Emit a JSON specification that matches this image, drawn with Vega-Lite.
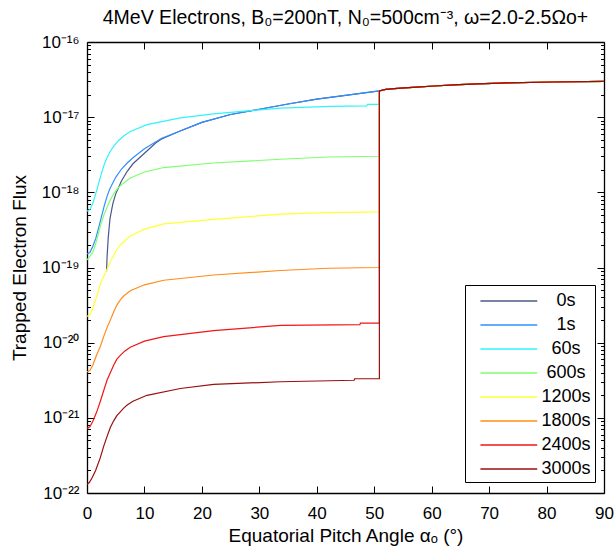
{
 "$schema": "https://vega.github.io/schema/vega-lite/v6.json",
 "autosize": {"type": "none"},
 "width": 517,
 "height": 451,
 "padding": {"left": 87, "top": 42, "right": 12, "bottom": 60},
 "background": "white",
 "config": {
  "font": "Liberation Sans",
  "view": {"stroke": null},
  "axis": {"grid": false, "domainColor": "black", "tickColor": "black", "labelColor": "black", "titleColor": "black", "domainWidth": 1.3, "tickWidth": 1, "labelFlush": false, "labelOverlap": false}
 },
 "title": {"text": "4MeV Electrons, B₀=200nT, N₀=500cm⁻³, ω=2.0-2.5Ωo+", "fontSize": 19.5, "fontWeight": "normal", "anchor": "middle", "offset": 5, "color": "black", "font": "Liberation Sans"},
 "data": {"values": [
  {"t":0,"a":3.4,"f":8.913e-20},{"t":0,"a":3.5,"f":1.413e-19},{"t":0,"a":3.7,"f":2.512e-19},{"t":0,"a":4.0,"f":4.467e-19},{"t":0,"a":4.5,"f":7.079e-19},{"t":0,"a":5,"f":9.55e-19},{"t":0,"a":6,"f":1.413e-18},{"t":0,"a":7,"f":1.905e-18},{"t":0,"a":8,"f":2.399e-18},{"t":0,"a":10,"f":3.311e-18},{"t":0,"a":12,"f":4.571e-18},{"t":0,"a":13,"f":5.129e-18},{"t":0,"a":16,"f":6.457e-18},{"t":0,"a":20,"f":8.511e-18},{"t":0,"a":25,"f":1.084e-17},{"t":0,"a":30,"f":1.274e-17},{"t":0,"a":35,"f":1.496e-17},{"t":0,"a":40,"f":1.738e-17},{"t":0,"a":45,"f":1.95e-17},
  {"t":0,"a":50.9,"f":2.239e-17},{"t":0,"a":52,"f":2.344e-17},{"t":0,"a":54.6,"f":2.427e-17},{"t":0,"a":57.4,"f":2.512e-17},{"t":0,"a":60.4,"f":2.6e-17},{"t":0,"a":63.9,"f":2.692e-17},{"t":0,"a":67.9,"f":2.773e-17},{"t":0,"a":73.2,"f":2.851e-17},{"t":0,"a":81,"f":2.938e-17},{"t":0,"a":90,"f":2.992e-17},

  {"t":1,"a":0,"f":1.514e-19},{"t":1,"a":0.5,"f":1.585e-19},{"t":1,"a":1,"f":1.905e-19},{"t":1,"a":1.5,"f":2.399e-19},{"t":1,"a":2,"f":3.311e-19},{"t":1,"a":2.5,"f":4.677e-19},{"t":1,"a":3,"f":6.607e-19},{"t":1,"a":3.5,"f":8.913e-19},{"t":1,"a":4,"f":1.122e-18},{"t":1,"a":5,"f":1.585e-18},{"t":1,"a":6,"f":2.042e-18},{"t":1,"a":7,"f":2.455e-18},{"t":1,"a":8,"f":2.884e-18},{"t":1,"a":10,"f":3.802e-18},{"t":1,"a":13,"f":5.248e-18},{"t":1,"a":16,"f":6.457e-18},{"t":1,"a":20,"f":8.511e-18},{"t":1,"a":25,"f":1.084e-17},{"t":1,"a":30,"f":1.274e-17},{"t":1,"a":35,"f":1.496e-17},{"t":1,"a":40,"f":1.738e-17},{"t":1,"a":45,"f":1.95e-17},
  {"t":1,"a":50.9,"f":2.239e-17},{"t":1,"a":52,"f":2.344e-17},{"t":1,"a":54.6,"f":2.427e-17},{"t":1,"a":57.4,"f":2.512e-17},{"t":1,"a":60.4,"f":2.6e-17},{"t":1,"a":63.9,"f":2.692e-17},{"t":1,"a":67.9,"f":2.773e-17},{"t":1,"a":73.2,"f":2.851e-17},{"t":1,"a":81,"f":2.938e-17},{"t":1,"a":90,"f":2.992e-17},

  {"t":60,"a":0,"f":5.623e-19},{"t":60,"a":0.5,"f":5.888e-19},{"t":60,"a":1,"f":7.079e-19},{"t":60,"a":1.74,"f":1.096e-18},{"t":60,"a":2.5,"f":1.778e-18},{"t":60,"a":3,"f":2.344e-18},{"t":60,"a":3.48,"f":2.884e-18},{"t":60,"a":4,"f":3.467e-18},{"t":60,"a":4.64,"f":4.074e-18},{"t":60,"a":5.5,"f":4.898e-18},{"t":60,"a":6.38,"f":5.623e-18},{"t":60,"a":7.54,"f":6.457e-18},{"t":60,"a":10.45,"f":7.943e-18},{"t":60,"a":16.25,"f":9.772e-18},{"t":60,"a":22.05,"f":1.109e-17},{"t":60,"a":33.67,"f":1.318e-17},{"t":60,"a":42.4,"f":1.396e-17},{"t":60,"a":48.7,"f":1.413e-17},{"t":60,"a":48.8,"f":1.479e-17},{"t":60,"a":50.9,"f":1.479e-17},
  {"t":60,"a":50.9,"f":2.239e-17},{"t":60,"a":52,"f":2.344e-17},{"t":60,"a":54.6,"f":2.427e-17},{"t":60,"a":57.4,"f":2.512e-17},{"t":60,"a":60.4,"f":2.6e-17},{"t":60,"a":63.9,"f":2.692e-17},{"t":60,"a":67.9,"f":2.773e-17},{"t":60,"a":73.2,"f":2.851e-17},{"t":60,"a":81,"f":2.938e-17},{"t":60,"a":90,"f":2.992e-17},

  {"t":600,"a":0,"f":1.259e-19},{"t":600,"a":1,"f":1.585e-19},{"t":600,"a":1.7,"f":2.291e-19},{"t":600,"a":2.32,"f":3.548e-19},{"t":600,"a":2.9,"f":4.898e-19},{"t":600,"a":3.5,"f":6.31e-19},{"t":600,"a":4,"f":7.762e-19},{"t":600,"a":4.64,"f":9.55e-19},{"t":600,"a":5.3,"f":1.122e-18},{"t":600,"a":6,"f":1.259e-18},{"t":600,"a":7.54,"f":1.549e-18},{"t":600,"a":10,"f":1.862e-18},{"t":600,"a":13.35,"f":2.138e-18},{"t":600,"a":22.05,"f":2.455e-18},{"t":600,"a":33.67,"f":2.754e-18},{"t":600,"a":42,"f":2.951e-18},{"t":600,"a":50.9,"f":3.02e-18},
  {"t":600,"a":50.9,"f":2.239e-17},{"t":600,"a":52,"f":2.344e-17},{"t":600,"a":54.6,"f":2.427e-17},{"t":600,"a":57.4,"f":2.512e-17},{"t":600,"a":60.4,"f":2.6e-17},{"t":600,"a":63.9,"f":2.692e-17},{"t":600,"a":67.9,"f":2.773e-17},{"t":600,"a":73.2,"f":2.851e-17},{"t":600,"a":81,"f":2.938e-17},{"t":600,"a":90,"f":2.992e-17},

  {"t":1200,"a":0,"f":2.239e-20},{"t":1200,"a":0.5,"f":2.344e-20},{"t":1200,"a":1,"f":2.818e-20},{"t":1200,"a":1.7,"f":4.169e-20},{"t":1200,"a":2.32,"f":6.026e-20},{"t":1200,"a":2.9,"f":7.586e-20},{"t":1200,"a":3.5,"f":9.55e-20},{"t":1200,"a":4.06,"f":1.202e-19},{"t":1200,"a":4.64,"f":1.445e-19},{"t":1200,"a":5.2,"f":1.738e-19},{"t":1200,"a":5.8,"f":1.995e-19},{"t":1200,"a":6.5,"f":2.239e-19},{"t":1200,"a":7.54,"f":2.63e-19},{"t":1200,"a":10,"f":3.236e-19},{"t":1200,"a":13.35,"f":3.802e-19},{"t":1200,"a":22.05,"f":4.365e-19},{"t":1200,"a":33.67,"f":5.129e-19},{"t":1200,"a":42,"f":5.37e-19},{"t":1200,"a":50.9,"f":5.495e-19},
  {"t":1200,"a":50.9,"f":2.239e-17},{"t":1200,"a":52,"f":2.344e-17},{"t":1200,"a":54.6,"f":2.427e-17},{"t":1200,"a":57.4,"f":2.512e-17},{"t":1200,"a":60.4,"f":2.6e-17},{"t":1200,"a":63.9,"f":2.692e-17},{"t":1200,"a":67.9,"f":2.773e-17},{"t":1200,"a":73.2,"f":2.851e-17},{"t":1200,"a":81,"f":2.938e-17},{"t":1200,"a":90,"f":2.992e-17},

  {"t":1800,"a":0,"f":4.074e-21},{"t":1800,"a":0.5,"f":4.266e-21},{"t":1800,"a":1,"f":5.012e-21},{"t":1800,"a":1.74,"f":7.079e-21},{"t":1800,"a":2.32,"f":8.913e-21},{"t":1800,"a":2.9,"f":1.202e-20},{"t":1800,"a":3.48,"f":1.585e-20},{"t":1800,"a":4.06,"f":1.995e-20},{"t":1800,"a":4.6,"f":2.512e-20},{"t":1800,"a":5.2,"f":3.162e-20},{"t":1800,"a":5.8,"f":3.715e-20},{"t":1800,"a":6.38,"f":4.169e-20},{"t":1800,"a":7.54,"f":4.898e-20},{"t":1800,"a":10,"f":5.888e-20},{"t":1800,"a":13.35,"f":6.761e-20},{"t":1800,"a":22.05,"f":7.943e-20},{"t":1800,"a":33.67,"f":9.12e-20},{"t":1800,"a":42,"f":9.772e-20},{"t":1800,"a":50.9,"f":1.0e-19},
  {"t":1800,"a":50.9,"f":2.239e-17},{"t":1800,"a":52,"f":2.344e-17},{"t":1800,"a":54.6,"f":2.427e-17},{"t":1800,"a":57.4,"f":2.512e-17},{"t":1800,"a":60.4,"f":2.6e-17},{"t":1800,"a":63.9,"f":2.692e-17},{"t":1800,"a":67.9,"f":2.773e-17},{"t":1800,"a":73.2,"f":2.851e-17},{"t":1800,"a":81,"f":2.938e-17},{"t":1800,"a":90,"f":2.992e-17},

  {"t":2400,"a":0,"f":7.244e-22},{"t":2400,"a":0.5,"f":7.586e-22},{"t":2400,"a":1,"f":8.913e-22},{"t":2400,"a":1.7,"f":1.202e-21},{"t":2400,"a":2.32,"f":1.66e-21},{"t":2400,"a":2.9,"f":2.291e-21},{"t":2400,"a":3.48,"f":3.162e-21},{"t":2400,"a":4.06,"f":3.981e-21},{"t":2400,"a":4.64,"f":5.012e-21},{"t":2400,"a":5.2,"f":6.026e-21},{"t":2400,"a":5.8,"f":6.761e-21},{"t":2400,"a":6.6,"f":7.762e-21},{"t":2400,"a":7.54,"f":8.71e-21},{"t":2400,"a":10,"f":1.047e-20},{"t":2400,"a":13.35,"f":1.202e-20},{"t":2400,"a":22.05,"f":1.445e-20},{"t":2400,"a":33.67,"f":1.698e-20},{"t":2400,"a":47.5,"f":1.738e-20},{"t":2400,"a":47.6,"f":1.82e-20},{"t":2400,"a":50.9,"f":1.82e-20},
  {"t":2400,"a":50.9,"f":2.239e-17},{"t":2400,"a":52,"f":2.344e-17},{"t":2400,"a":54.6,"f":2.427e-17},{"t":2400,"a":57.4,"f":2.512e-17},{"t":2400,"a":60.4,"f":2.6e-17},{"t":2400,"a":63.9,"f":2.692e-17},{"t":2400,"a":67.9,"f":2.773e-17},{"t":2400,"a":73.2,"f":2.851e-17},{"t":2400,"a":81,"f":2.938e-17},{"t":2400,"a":90,"f":2.992e-17},

  {"t":3000,"a":0,"f":1.303e-22},{"t":3000,"a":0.4,"f":1.38e-22},{"t":3000,"a":0.87,"f":1.585e-22},{"t":3000,"a":1.5,"f":1.995e-22},{"t":3000,"a":2.32,"f":2.951e-22},{"t":3000,"a":2.9,"f":4.169e-22},{"t":3000,"a":3.48,"f":5.623e-22},{"t":3000,"a":4.06,"f":7.413e-22},{"t":3000,"a":4.64,"f":9.12e-22},{"t":3000,"a":5.2,"f":1.072e-21},{"t":3000,"a":5.8,"f":1.202e-21},{"t":3000,"a":6.38,"f":1.349e-21},{"t":3000,"a":7,"f":1.479e-21},{"t":3000,"a":8,"f":1.66e-21},{"t":3000,"a":10.45,"f":1.995e-21},{"t":3000,"a":16.25,"f":2.455e-21},{"t":3000,"a":22.05,"f":2.786e-21},{"t":3000,"a":33.67,"f":3.02e-21},{"t":3000,"a":46.5,"f":3.162e-21},{"t":3000,"a":46.6,"f":3.311e-21},{"t":3000,"a":50.9,"f":3.311e-21},
  {"t":3000,"a":50.9,"f":2.239e-17},{"t":3000,"a":52,"f":2.344e-17},{"t":3000,"a":54.6,"f":2.427e-17},{"t":3000,"a":57.4,"f":2.512e-17},{"t":3000,"a":60.4,"f":2.6e-17},{"t":3000,"a":63.9,"f":2.692e-17},{"t":3000,"a":67.9,"f":2.773e-17},{"t":3000,"a":73.2,"f":2.851e-17},{"t":3000,"a":81,"f":2.938e-17},{"t":3000,"a":90,"f":2.992e-17}
 ]},
 "layer": [
  {
   "mark": {"type": "line", "strokeWidth": 1.2, "clip": true},
   "encoding": {
    "x": {"field": "a", "type": "quantitative",
     "scale": {"domain": [0, 90], "nice": false, "zero": false},
     "axis": {"orient": "bottom", "values": [0,10,20,30,40,50,60,70,80,90], "title": "Equatorial Pitch Angle αₒ (°)", "tickSize": -7, "labelPadding": 19, "labelFontSize": 17, "titleFontSize": 19, "titleFontWeight": "normal", "titlePadding": 5}},
    "y": {"field": "f", "type": "quantitative",
     "scale": {"type": "log", "domain": [1e-22, 1e-16], "nice": false},
     "axis": {"orient": "left", "values": [1e-22,1e-21,1e-20,1e-19,1e-18,1e-17,1e-16],
      "labelExpr": "datum.value < 5e-22 ? '10⁻²²' : datum.value < 5e-21 ? '10⁻²¹' : datum.value < 5e-20 ? '10⁻²⁰' : datum.value < 5e-19 ? '10⁻¹⁹' : datum.value < 5e-18 ? '10⁻¹⁸' : datum.value < 5e-17 ? '10⁻¹⁷' : '10⁻¹⁶'",
      "title": "Trapped Electron Flux", "tickSize": -7, "labelPadding": 15, "labelFontSize": 17, "titleFontSize": 19, "titleFontWeight": "normal", "titlePadding": 12}},
    "color": {"field": "t", "type": "nominal",
     "scale": {"domain": [0,1,60,600,1200,1800,2400,3000], "range": ["#4a5888", "#2f8fff", "#33f2f8", "#7dff6b", "#ffff33", "#ff8c1a", "#f21515", "#990f0f"]},
     "legend": {"orient": "none", "legendX": 378, "legendY": 243, "title": null, "symbolType": "M-0.05,0H5", "symbolSize": 506, "symbolStrokeWidth": 1.5, "labelFontSize": 18, "labelOffset": 73, "labelAlign": "center", "padding": 4, "rowPadding": 3, "strokeColor": "black", "fillColor": "white", "labelExpr": "datum.label + 's'", "labelColor": "black"}},
    "order": {"value": null}
   }
  },
  {
   "mark": {"type": "line", "opacity": 0},
   "encoding": {
    "x": {"field": "a", "type": "quantitative", "axis": {"orient": "top", "values": [0,10,20,30,40,50,60,70,80,90], "labels": false, "tickSize": -7, "title": null}},
    "y": {"field": "f", "type": "quantitative", "axis": {"orient": "right", "values": [1e-22,1e-21,1e-20,1e-19,1e-18,1e-17,1e-16], "labels": false, "tickSize": -7, "title": null}},
    "detail": {"field": "t"}
   }
  },
  {
   "mark": {"type": "line", "opacity": 0},
   "encoding": {
    "x": {"field": "a", "type": "quantitative", "axis": null},
    "y": {"field": "f", "type": "quantitative", "axis": {"orient": "left", "values": [2e-22,3e-22,4e-22,5e-22,6e-22,7e-22,8e-22,9e-22,2e-21,3e-21,4e-21,5e-21,6e-21,7e-21,8e-21,9e-21,2e-20,3e-20,4e-20,5e-20,6e-20,7e-20,8e-20,9e-20,2e-19,3e-19,4e-19,5e-19,6e-19,7e-19,8e-19,9e-19,2e-18,3e-18,4e-18,5e-18,6e-18,7e-18,8e-18,9e-18,2e-17,3e-17,4e-17,5e-17,6e-17,7e-17,8e-17,9e-17], "labels": false, "tickSize": -3.5, "domain": false, "title": null}},
    "detail": {"field": "t"}
   }
  },
  {
   "mark": {"type": "line", "opacity": 0},
   "encoding": {
    "x": {"field": "a", "type": "quantitative", "axis": null},
    "y": {"field": "f", "type": "quantitative", "axis": {"orient": "right", "values": [2e-22,3e-22,4e-22,5e-22,6e-22,7e-22,8e-22,9e-22,2e-21,3e-21,4e-21,5e-21,6e-21,7e-21,8e-21,9e-21,2e-20,3e-20,4e-20,5e-20,6e-20,7e-20,8e-20,9e-20,2e-19,3e-19,4e-19,5e-19,6e-19,7e-19,8e-19,9e-19,2e-18,3e-18,4e-18,5e-18,6e-18,7e-18,8e-18,9e-18,2e-17,3e-17,4e-17,5e-17,6e-17,7e-17,8e-17,9e-17], "labels": false, "tickSize": -3.5, "domain": false, "title": null}},
    "detail": {"field": "t"}
   }
  }
 ],
 "resolve": {"axis": {"x": "independent", "y": "independent"}}
}
